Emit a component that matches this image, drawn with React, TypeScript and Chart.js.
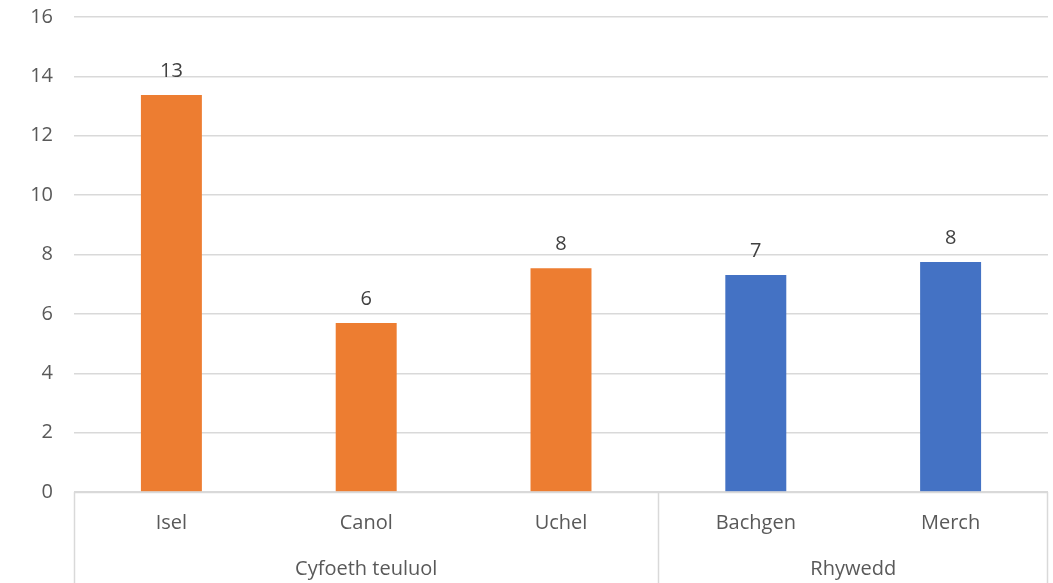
import React, { useEffect, useRef } from "react";
import { Chart, registerables } from "chart.js";

Chart.register(...registerables);

const categories = ["Isel", "Canol", "Uchel", "Bachgen", "Merch"];
const values = [13.37, 5.69, 7.54, 7.31, 7.75];
const barColors = ["#ED7D31", "#ED7D31", "#ED7D31", "#4472C4", "#4472C4"];
const groupNames = ["Cyfoeth teuluol", "Rhywedd"];
const groupSizes = [3, 2];
const yTicks = [0, 2, 4, 6, 8, 10, 12, 14, 16];

const FONT = "'Open Sans', 'Noto Sans', sans-serif";
const TEXT = "#595959";
const LINE = "#D9D9D9";
const FS = 20;

const groupAxisPlugin = {
  id: "groupAxis",
  afterDraw(chart: any) {
    const { ctx, chartArea } = chart;
    const x = chart.scales.x;
    const n = categories.length;
    const bottom = chart.height;
    ctx.save();
    ctx.strokeStyle = LINE;
    ctx.lineWidth = 1.5;
    ctx.beginPath();
    ctx.moveTo(chartArea.left, chartArea.bottom + 0.5);
    ctx.lineTo(chartArea.right, chartArea.bottom + 0.5);
    ctx.stroke();
    let idx = 0;
    const bounds = [0];
    groupSizes.forEach((s) => {
      idx += s;
      bounds.push(idx);
    });
    bounds.forEach((b) => {
      const px = Math.round(x.getPixelForValue(b - 0.5)) + 0.5;
      const pxx = b === 0 ? Math.round(chartArea.left) + 0.5 : b === n ? Math.round(chartArea.right) - 0.5 : px;
      ctx.beginPath();
      ctx.moveTo(pxx, chartArea.bottom);
      ctx.lineTo(pxx, bottom);
      ctx.stroke();
    });
    ctx.fillStyle = TEXT;
    ctx.font = `${FS}px ${FONT}`;
    ctx.textAlign = "center";
    ctx.textBaseline = "middle";
    categories.forEach((c, i) => {
      ctx.fillText(c, x.getPixelForValue(i), chartArea.bottom + 31);
    });
    for (let g = 0; g < groupNames.length; g++) {
      const l = x.getPixelForValue(bounds[g] - 0.5);
      const r = x.getPixelForValue(bounds[g + 1] - 0.5);
      ctx.fillText(groupNames[g], (l + r) / 2, chartArea.bottom + 77);
    }
    ctx.restore();
  },
};

const dataLabelPlugin = {
  id: "dataLabels",
  afterDatasetsDraw(chart: any) {
    const { ctx } = chart;
    const meta = chart.getDatasetMeta(0);
    ctx.save();
    ctx.fillStyle = "#404040";
    ctx.font = `${FS}px ${FONT}`;
    ctx.textAlign = "center";
    ctx.textBaseline = "middle";
    meta.data.forEach((bar: any, i: number) => {
      ctx.fillText(String(Math.round(values[i])), bar.x, bar.y - 24);
    });
    ctx.restore();
  },
};

export default function App() {
  const ref = useRef<HTMLCanvasElement>(null);
  useEffect(() => {
    if (!ref.current) return;
    const chart = new Chart(ref.current, {
      type: "bar",
      data: {
        labels: categories,
        datasets: [
          {
            data: values,
            backgroundColor: barColors,
            barPercentage: 0.313,
            categoryPercentage: 1,
          },
        ],
      },
      options: {
        animation: false,
        responsive: false,
        layout: { padding: { top: 17, right: 5, left: 0, bottom: 0 } },
        plugins: { legend: { display: false }, tooltip: { enabled: false } },
        scales: {
          x: {
            grid: { display: false, drawTicks: false },
            border: { display: false },
            ticks: { display: false },
            afterFit: (s: any) => {
              s.height = 91;
              s.paddingLeft = 0;
              s.paddingRight = 0;
            },
          },
          y: {
            min: 0,
            max: 16,
            afterBuildTicks: (s: any) => {
              s.ticks = yTicks.map((v) => ({ value: v }));
            },
            grid: { color: LINE, drawTicks: false, lineWidth: 1.5 },
            border: { display: false },
            ticks: {
              color: TEXT,
              font: { family: FONT, size: FS },
              padding: 21,
            },
            afterFit: (s: any) => {
              s.width = 74;
              s.paddingTop = 0;
              s.paddingBottom = 0;
            },
          },
        },
      },
      plugins: [groupAxisPlugin, dataLabelPlugin],
    });
    return () => chart.destroy();
  }, []);
  return (
    <div style={{ position: "fixed", left: 0, top: 0, width: 1053, height: 583, background: "#fff" }}>
      <canvas ref={ref} width={1053} height={583} style={{ width: 1053, height: 583 }} />
    </div>
  );
}
